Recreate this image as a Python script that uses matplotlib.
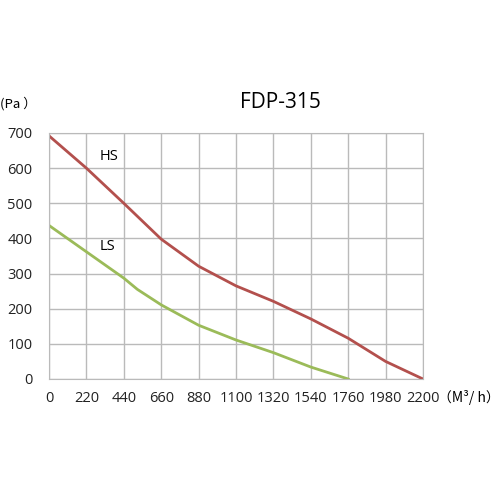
import matplotlib
matplotlib.use("Agg")
import matplotlib.pyplot as plt

# airflow (m3/h) and static pressure (Pa)
hs_flow = [0, 220, 440, 660, 880, 1100, 1320, 1540, 1760, 1980, 2200]
hs_pressure = [692, 600, 500, 398, 321, 265, 221, 171, 116, 50, 0]

ls_flow = [0, 220, 440, 520, 660, 880, 1100, 1320, 1540, 1760]
ls_pressure = [437, 362, 287, 255, 211, 153, 111, 75, 34, 0]

x_ticks = [0, 220, 440, 660, 880, 1100, 1320, 1540, 1760, 1980, 2200]
y_ticks = [0, 100, 200, 300, 400, 500, 600, 700]

plt.rcParams['font.family'] = ['Open Sans', 'DejaVu Sans']

fig = plt.figure(figsize=(5, 5), dpi=100)
ax = fig.add_axes([0.098, 0.242, 0.748, 0.492])

ax.plot(hs_flow, hs_pressure, color='#b3504d', lw=2)
ax.plot(ls_flow, ls_pressure, color='#9bbb59', lw=2)

ax.set_xlim(0, 2200)
ax.set_ylim(0, 700)
ax.set_xticks(x_ticks)
ax.set_yticks(y_ticks)
ax.tick_params(length=0, labelsize=10.5, colors='#222222')
ax.tick_params(axis='x', pad=9)
ax.tick_params(axis='y', pad=12)
ax.grid(True, color='#bababa', lw=1)
for s in ax.spines.values():
    s.set_color('#bababa')

ax.text(300, 634, 'HS', fontsize=10.5, va='center')
ax.text(300, 377, 'LS', fontsize=10.5, va='center')

fig.text(0.56, 0.795, 'FDP-315', fontsize=15, ha='center', va='center')
fig.text(0.0, 0.792, '(Pa ）', fontsize=9.5, va='center',
         family=['Noto Sans CJK SC', 'DejaVu Sans'])
fig.text(1.0, 0.205, '（M³/ h）', fontsize=10, va='center', ha='right',
         family=['Noto Sans CJK SC', 'DejaVu Sans'])

fig.savefig('out.png', dpi=100)
